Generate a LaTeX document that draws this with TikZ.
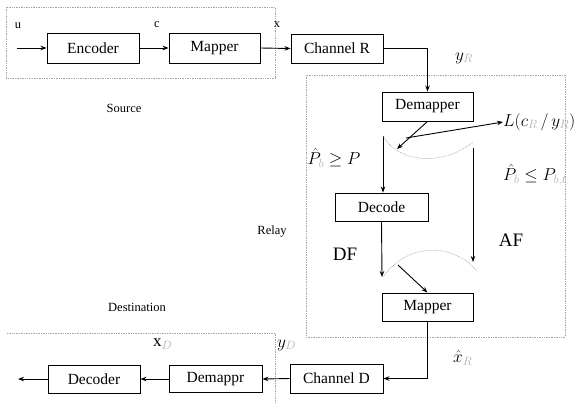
\documentclass[tikz,border=0pt]{standalone}
\usepackage{fontspec}
\setmainfont{Liberation Serif}
\usetikzlibrary{arrows.meta}
\tikzset{
  blk/.style={draw, line width=0.9pt, rectangle, inner sep=0pt, font=\fontsize{15.5}{17}\selectfont},
  conn/.style={line width=0.9pt, -{Stealth[length=6pt,width=4.5pt]}},
  dots/.style={gray!70, line width=0.7pt, densely dotted},
  small/.style={font=\fontsize{12.5}{14}\selectfont, inner sep=0pt},
  big/.style={font=\fontsize{19}{21}\selectfont, inner sep=0pt},
  mlab/.style={font=\fontsize{17}{19}\selectfont, inner sep=0pt},
}
\newcommand{\gsub}[1]{_{\color{gray!60}#1}}
\begin{document}
\begin{tikzpicture}[x=1pt,y=-1pt]
\clip (0,0) rectangle (577,402);
\fill[white] (0,0) rectangle (577,402);
% dotted regions
\draw[dots] (6,7) rectangle (275,78);
\draw[dots] (306,75) rectangle (565,337);
\draw[dots] (7,333) -- (275,333) -- (275,402);
% blocks
\node[blk, minimum width=92pt, minimum height=30pt] (enc) at (93,48) {Encoder};
\node[blk, minimum width=91pt, minimum height=30pt] (map1) at (214.5,48) {Mapper};
\node[blk, minimum width=92pt, minimum height=29pt] (chR) at (337,48.5) {Channel R};
\node[blk, minimum width=91pt, minimum height=29pt] (dem) at (427.5,106.5) {Demapper};
\node[blk, minimum width=93pt, minimum height=28pt] (dec) at (381.5,207) {Decode};
\node[blk, minimum width=91pt, minimum height=28pt] (map2) at (427.5,307) {Mapper};
\node[blk, minimum width=93pt, minimum height=29pt] (chD) at (336.5,378.5) {Channel D};
\node[blk, minimum width=93pt, minimum height=27pt] (demD) at (215.5,379) {Demappr};
\node[blk, minimum width=92pt, minimum height=28pt] (decD) at (94,379) {Decoder};
% labels
\node[small] (lu) at (18,26) {u};
\node[small] (lc) at (157,25) {c};
\node[small] (lx) at (277,25) {x};
\node[small] (lsrc) at (124,108) {Source};
\node[small] (lrel) at (272,232) {Relay};
\node[small] (ldst) at (137,307) {Destination};
\node[mlab, anchor=west] (lyR) at (455,58) {$y\gsub{R}$};
\node[mlab, anchor=west] (L) at (503,122) {$L(c\gsub{R}\,/\,y\gsub{R})$};
\node[mlab] (lge) at (334,158) {$\hat{P}\gsub{b}\geq P$};
\node[mlab, anchor=west] (lle) at (503,175) {$\hat{P}\gsub{b}\leq P\gsub{b,t}$};
\node[big] (lDF) at (345,254) {DF};
\node[big] (lAF) at (511,240) {AF};
\node[mlab, anchor=west] (lxR) at (453,358) {$\hat{x}\gsub{R}$};
\node[mlab, anchor=west] (lxD) at (153,344) {$\mathrm{x}\gsub{D}$};
\node[mlab, anchor=west] (lyD) at (277,345) {$y\gsub{D}$};
% coordinates
\coordinate (uin) at (17,48);
\coordinate (a1) at (397,149);
\coordinate (a2) at (406,138);
\coordinate (v1) at (383,136);
\coordinate (v2) at (473,148);
\coordinate (v2e) at (473,262);
\coordinate (d2) at (382,277);
\coordinate (m1) at (398,265);
\coordinate (out) at (18,379);
% connectors
\draw[conn] (uin) -- (enc.west);
\draw[conn] (enc.east) -- (map1.west);
\draw[conn] (map1.east) -- (chR.west);
\draw[conn] (chR.east) -| (dem.north);
\draw[conn] (dem.south) -- (a1);
\draw[conn] (a2) -- (L.west);
\draw[conn] (v1) -- (v1 |- dec.north);
\draw[conn] (v2) -- (v2e);
\draw[conn] (dec.south) -- (d2);
\draw[conn] (m1) -- (map2.north);
\draw[conn] (map2.south) |- (chD.east);
\draw[conn] (chD.west) -- (demD.east);
\draw[conn] (demD.west) -- (decD.east);
\draw[conn] (decD.west) -- (out);
% dotted switch curves
\draw[dots] (383,136) .. controls (400,165) and (445,165) .. (473,142);
\draw[dots] (383,277) .. controls (405,245) and (450,240) .. (477,271);
\end{tikzpicture}
\end{document}
